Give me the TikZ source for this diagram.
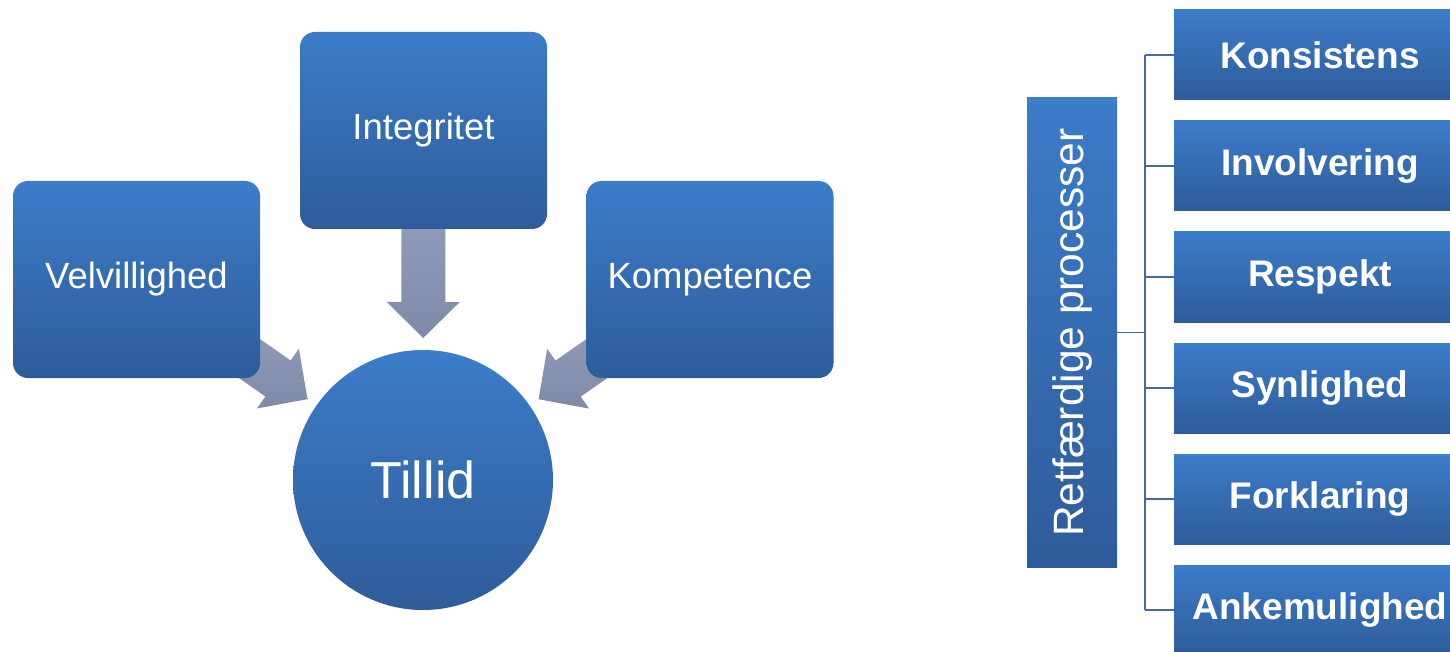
\documentclass[tikz,border=0pt]{standalone}
\usepackage{fontspec}
\setmainfont{Liberation Sans}
\usetikzlibrary{calc,backgrounds}
\definecolor{boxtop}{HTML}{3C7CC9}
\definecolor{boxbot}{HTML}{2E5C9A}
\definecolor{arrtop}{HTML}{9DAAC7}
\definecolor{arrbot}{HTML}{7E8AA7}
\definecolor{linkline}{HTML}{4A6A9C}

\newcommand{\blockarrow}[3]{%
	\coordinate (#3h) at ($(#2)!36pt!(#1)$);
	\path[fatarrow] ($(#1)!22pt!90:(#2)$) -- ($(#3h)!22pt!90:(#2)$) -- ($(#3h)!36.5pt!90:(#2)$) -- (#2)
		-- ($(#3h)!36.5pt!-90:(#2)$) -- ($(#3h)!22pt!-90:(#2)$) -- ($(#1)!22pt!-90:(#2)$) -- cycle;
}

\begin{document}
\begin{tikzpicture}[x=1pt,y=-1pt,
	rbox/.style={rounded corners=15pt, top color=boxtop, bottom color=boxbot, minimum width=247pt, minimum height=197pt, text=white, font=\fontsize{36.5}{44}\selectfont},
	tbox/.style={top color=boxtop, bottom color=boxbot, minimum width=292pt, minimum height=90pt, text=white, font=\fontsize{37}{44}\selectfont\bfseries},
	fatarrow/.style={top color=arrtop, bottom color=arrbot},
	link/.style={draw=linkline, line width=1.6pt}]
	  \clip (0,0) rectangle (1450,652);
	  \node [rbox] (velv) at (136.5,279.5) {Velvillighed};
	  \node [rbox] (integ) at (423.5,130.5) {Integritet};
	  \node [rbox] (komp) at (710,279.5) {Kompetence};
	  \node [circle, top color=boxtop, bottom color=boxbot, minimum size=260pt, text=white, font=\fontsize{52}{60}\selectfont] (tillid) at (423,480) {Tillid};
	  \coordinate (tipV) at ($(tillid.center)!141pt!(velv.center)$);
	  \coordinate (tipI) at ($(tillid.center)!142pt!(integ.center)$);
	  \coordinate (tipK) at ($(tillid.center)!141pt!(komp.center)$);
	  \begin{scope}[on background layer]
	    \blockarrow{velv.center}{tipV}{av}
	    \blockarrow{integ.center}{tipI}{ai}
	    \blockarrow{komp.center}{tipK}{ak}
	  \end{scope}
	  \node [top color=boxtop, bottom color=boxbot, minimum width=90pt, minimum height=469pt, text=white, font=\fontsize{42.5}{50}\selectfont] (proc) at (1072,332.5) {\rotatebox{90}{Retfærdige processer}};
	  \node [tbox] (konsistens) at (1320,55) {Konsistens};
	  \node [tbox] (involvering) at (1320,166) {Involvering};
	  \node [tbox] (respekt) at (1320,277) {Respekt};
	  \node [tbox] (synlighed) at (1320,388) {Synlighed};
	  \node [tbox] (forklaring) at (1320,499) {Forklaring};
	  \node [tbox] (anke) at (1320,610) {Ankemulighed};
	  \coordinate (hub) at ($(proc.east)+(28,0)$);
	  \draw [link] (proc.east) -- (hub);
	  \draw [link] (hub |- konsistens.west) -- (hub |- anke.west);
	  \foreach \b in {konsistens,involvering,respekt,synlighed,forklaring,anke}
	    \draw [link] (hub |- \b.west) -- (\b.west);
	 \end{tikzpicture}
\end{document}
